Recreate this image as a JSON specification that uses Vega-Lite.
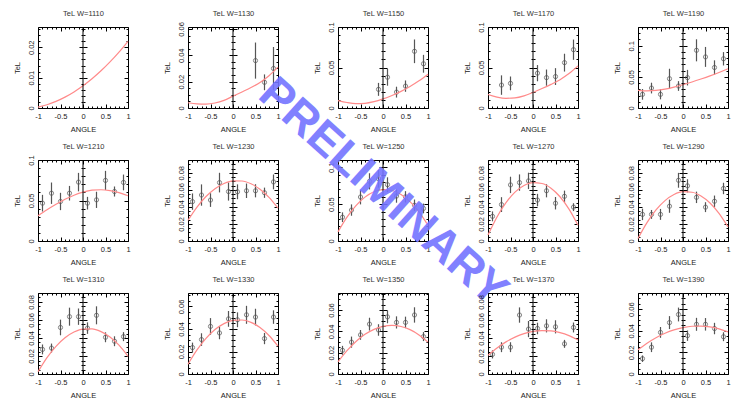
{
"$schema":"https://vega.github.io/schema/vega-lite/v6.json",
"background":"white",
"padding":{"left":12,"top":9,"right":0,"bottom":0},
"columns":5,
"spacing":{"row":52,"column":60},
"bounds":"flush",
"config":{
 "font":"Liberation Sans",
 "view":{"stroke":"#000","strokeWidth":1},
 "axis":{"grid":false,"domain":false,"tickColor":"#000","tickWidth":1,"labelFont":"Liberation Sans","labelFontSize":7.5,"labelColor":"#222","titleFont":"Liberation Sans","titleFontSize":7.5,"titleFontWeight":"normal","titleColor":"#222","labelFlush":false,"labelOverlap":false}
},
"datasets":{
"pts":[
{"w":1130,"a":0.5,"v":0.036,"e":0.0137},{"w":1130,"a":0.7,"v":0.0195,"e":0.006},{"w":1130,"a":0.9,"v":0.030,"e":0.0163},
{"w":1150,"a":-0.1,"v":0.023,"e":0.008},{"w":1150,"a":0.1,"v":0.038,"e":0.0105},{"w":1150,"a":0.3,"v":0.0196,"e":0.0067},{"w":1150,"a":0.5,"v":0.027,"e":0.007},{"w":1150,"a":0.7,"v":0.070,"e":0.0146},{"w":1150,"a":0.9,"v":0.0546,"e":0.011},
{"w":1170,"a":-0.7,"v":0.0283,"e":0.012},{"w":1170,"a":-0.5,"v":0.0304,"e":0.0085},{"w":1170,"a":0.1,"v":0.043,"e":0.01},{"w":1170,"a":0.3,"v":0.0375,"e":0.01},{"w":1170,"a":0.5,"v":0.0388,"e":0.0104},{"w":1170,"a":0.7,"v":0.056,"e":0.011},{"w":1170,"a":0.9,"v":0.072,"e":0.0125},
{"w":1190,"a":-0.9,"v":0.0219,"e":0.0086},{"w":1190,"a":-0.7,"v":0.032,"e":0.0086},{"w":1190,"a":-0.5,"v":0.0219,"e":0.008},{"w":1190,"a":-0.3,"v":0.047,"e":0.016},{"w":1190,"a":-0.1,"v":0.0353,"e":0.0078},{"w":1190,"a":0.1,"v":0.0487,"e":0.0125},{"w":1190,"a":0.3,"v":0.0926,"e":0.0177},{"w":1190,"a":0.5,"v":0.082,"e":0.016},{"w":1190,"a":0.7,"v":0.065,"e":0.0115},{"w":1190,"a":0.9,"v":0.079,"e":0.0107},
{"w":1210,"a":-0.9,"v":0.0467,"e":0.0103},{"w":1210,"a":-0.7,"v":0.059,"e":0.0132},{"w":1210,"a":-0.5,"v":0.0488,"e":0.0107},{"w":1210,"a":-0.3,"v":0.059,"e":0.009},{"w":1210,"a":-0.1,"v":0.0727,"e":0.0114},{"w":1210,"a":0.1,"v":0.0467,"e":0.0078},{"w":1210,"a":0.3,"v":0.0508,"e":0.01},{"w":1210,"a":0.5,"v":0.0748,"e":0.0118},{"w":1210,"a":0.7,"v":0.0611,"e":0.0062},{"w":1210,"a":0.9,"v":0.0723,"e":0.0097},
{"w":1230,"a":-0.9,"v":0.0462,"e":0.0096},{"w":1230,"a":-0.7,"v":0.0539,"e":0.0125},{"w":1230,"a":-0.5,"v":0.048,"e":0.008},{"w":1230,"a":-0.3,"v":0.0685,"e":0.0115},{"w":1230,"a":-0.1,"v":0.058,"e":0.0106},{"w":1230,"a":0.1,"v":0.0577,"e":0.0087},{"w":1230,"a":0.3,"v":0.0589,"e":0.0085},{"w":1230,"a":0.5,"v":0.0589,"e":0.0077},{"w":1230,"a":0.7,"v":0.0566,"e":0.006},{"w":1230,"a":0.9,"v":0.0693,"e":0.0087},
{"w":1250,"a":-0.9,"v":0.0323,"e":0.0066},{"w":1250,"a":-0.7,"v":0.042,"e":0.0077},{"w":1250,"a":-0.5,"v":0.0597,"e":0.01},{"w":1250,"a":-0.3,"v":0.081,"e":0.011},{"w":1250,"a":-0.1,"v":0.0844,"e":0.012},{"w":1250,"a":0.1,"v":0.0765,"e":0.01},{"w":1250,"a":0.3,"v":0.061,"e":0.009},{"w":1250,"a":0.5,"v":0.06,"e":0.0077},{"w":1250,"a":0.7,"v":0.0486,"e":0.0077},{"w":1250,"a":0.9,"v":0.0442,"e":0.0066},
{"w":1270,"a":-0.9,"v":0.0289,"e":0.0058},{"w":1270,"a":-0.7,"v":0.0427,"e":0.0087},{"w":1270,"a":-0.5,"v":0.0658,"e":0.0096},{"w":1270,"a":-0.3,"v":0.0685,"e":0.0096},{"w":1270,"a":-0.1,"v":0.0705,"e":0.0096},{"w":1270,"a":0.1,"v":0.048,"e":0.0073},{"w":1270,"a":0.3,"v":0.0589,"e":0.0077},{"w":1270,"a":0.5,"v":0.0443,"e":0.0073},{"w":1270,"a":0.7,"v":0.0524,"e":0.0067},{"w":1270,"a":0.9,"v":0.0397,"e":0.0046},
{"w":1290,"a":-0.9,"v":0.0312,"e":0.0067},{"w":1290,"a":-0.7,"v":0.0312,"e":0.0052},{"w":1290,"a":-0.5,"v":0.0312,"e":0.0064},{"w":1290,"a":-0.3,"v":0.0408,"e":0.0077},{"w":1290,"a":-0.1,"v":0.0712,"e":0.0087},{"w":1290,"a":0.1,"v":0.0647,"e":0.0077},{"w":1290,"a":0.3,"v":0.0512,"e":0.0067},{"w":1290,"a":0.5,"v":0.0397,"e":0.0058},{"w":1290,"a":0.7,"v":0.0466,"e":0.0067},{"w":1290,"a":0.9,"v":0.0616,"e":0.0067},
{"w":1310,"a":-0.9,"v":0.0273,"e":0.0055},{"w":1310,"a":-0.7,"v":0.0288,"e":0.005},{"w":1310,"a":-0.5,"v":0.0517,"e":0.0087},{"w":1310,"a":-0.3,"v":0.0637,"e":0.01},{"w":1310,"a":-0.1,"v":0.0637,"e":0.0091},{"w":1310,"a":0.1,"v":0.051,"e":0.0064},{"w":1310,"a":0.3,"v":0.0652,"e":0.01},{"w":1310,"a":0.5,"v":0.0408,"e":0.0055},{"w":1310,"a":0.7,"v":0.0364,"e":0.0055},{"w":1310,"a":0.9,"v":0.0415,"e":0.005},
{"w":1330,"a":-0.9,"v":0.0235,"e":0.0044},{"w":1330,"a":-0.7,"v":0.0306,"e":0.0056},{"w":1330,"a":-0.5,"v":0.0423,"e":0.0074},{"w":1330,"a":-0.3,"v":0.0365,"e":0.0056},{"w":1330,"a":-0.1,"v":0.049,"e":0.007},{"w":1330,"a":0.1,"v":0.0482,"e":0.0066},{"w":1330,"a":0.3,"v":0.0526,"e":0.008},{"w":1330,"a":0.5,"v":0.0506,"e":0.0074},{"w":1330,"a":0.7,"v":0.0315,"e":0.005},{"w":1330,"a":0.9,"v":0.0506,"e":0.006},
{"w":1350,"a":-0.9,"v":0.0222,"e":0.0042},{"w":1350,"a":-0.7,"v":0.0299,"e":0.0052},{"w":1350,"a":-0.5,"v":0.0367,"e":0.0046},{"w":1350,"a":-0.3,"v":0.0468,"e":0.006},{"w":1350,"a":-0.1,"v":0.0413,"e":0.0054},{"w":1350,"a":0.1,"v":0.0536,"e":0.006},{"w":1350,"a":0.3,"v":0.0484,"e":0.0057},{"w":1350,"a":0.5,"v":0.0484,"e":0.0054},{"w":1350,"a":0.7,"v":0.0554,"e":0.0072},{"w":1350,"a":0.9,"v":0.0351,"e":0.0042},
{"w":1370,"a":-0.9,"v":0.0218,"e":0.0045},{"w":1370,"a":-0.7,"v":0.0298,"e":0.0055},{"w":1370,"a":-0.5,"v":0.0298,"e":0.0055},{"w":1370,"a":-0.3,"v":0.0655,"e":0.0085},{"w":1370,"a":-0.1,"v":0.0499,"e":0.009},{"w":1370,"a":0.1,"v":0.0506,"e":0.0064},{"w":1370,"a":0.3,"v":0.0535,"e":0.0073},{"w":1370,"a":0.5,"v":0.0524,"e":0.0073},{"w":1370,"a":0.7,"v":0.0335,"e":0.0044},{"w":1370,"a":0.9,"v":0.0517,"e":0.0055},
{"w":1390,"a":-0.9,"v":0.0142,"e":0.003},{"w":1390,"a":-0.7,"v":0.0248,"e":0.0045},{"w":1390,"a":-0.5,"v":0.0385,"e":0.005},{"w":1390,"a":-0.3,"v":0.0476,"e":0.006},{"w":1390,"a":-0.1,"v":0.0551,"e":0.0064},{"w":1390,"a":0.1,"v":0.0355,"e":0.0048},{"w":1390,"a":0.3,"v":0.046,"e":0.006},{"w":1390,"a":0.5,"v":0.046,"e":0.0058},{"w":1390,"a":0.7,"v":0.0421,"e":0.0053},{"w":1390,"a":0.9,"v":0.0345,"e":0.0041}
],
"fit":[
{"w":1110,"a":-1,"v":0.0003},{"w":1110,"a":-0.8,"v":0.00108},{"w":1110,"a":-0.6,"v":0.00218},{"w":1110,"a":-0.4,"v":0.00358},{"w":1110,"a":-0.2,"v":0.00528},{"w":1110,"a":0,"v":0.0073},{"w":1110,"a":0.2,"v":0.00962},{"w":1110,"a":0.4,"v":0.01226},{"w":1110,"a":0.6,"v":0.0152},{"w":1110,"a":0.8,"v":0.01844},{"w":1110,"a":1,"v":0.022},
{"w":1130,"a":-1,"v":0.004},{"w":1130,"a":-0.8,"v":0.0032},{"w":1130,"a":-0.6,"v":0.003},{"w":1130,"a":-0.4,"v":0.0038},{"w":1130,"a":-0.2,"v":0.0058},{"w":1130,"a":0,"v":0.009},{"w":1130,"a":0.2,"v":0.0122},{"w":1130,"a":0.4,"v":0.0155},{"w":1130,"a":0.6,"v":0.0194},{"w":1130,"a":0.8,"v":0.0245},{"w":1130,"a":1,"v":0.031},
{"w":1150,"a":-1,"v":0.0092},{"w":1150,"a":-0.8,"v":0.0068},{"w":1150,"a":-0.6,"v":0.0055},{"w":1150,"a":-0.4,"v":0.0058},{"w":1150,"a":-0.2,"v":0.0078},{"w":1150,"a":0,"v":0.0112},{"w":1150,"a":0.2,"v":0.0155},{"w":1150,"a":0.4,"v":0.0205},{"w":1150,"a":0.6,"v":0.0265},{"w":1150,"a":0.8,"v":0.0335},{"w":1150,"a":1,"v":0.0417},
{"w":1170,"a":-1,"v":0.0167},{"w":1170,"a":-0.8,"v":0.0135},{"w":1170,"a":-0.6,"v":0.012},{"w":1170,"a":-0.4,"v":0.0125},{"w":1170,"a":-0.2,"v":0.015},{"w":1170,"a":0,"v":0.0192},{"w":1170,"a":0.2,"v":0.024},{"w":1170,"a":0.4,"v":0.0292},{"w":1170,"a":0.6,"v":0.035},{"w":1170,"a":0.8,"v":0.0425},{"w":1170,"a":1,"v":0.052},
{"w":1190,"a":-1,"v":0.0284},{"w":1190,"a":-0.8,"v":0.0275},{"w":1190,"a":-0.6,"v":0.0282},{"w":1190,"a":-0.4,"v":0.0303},{"w":1190,"a":-0.2,"v":0.0335},{"w":1190,"a":0,"v":0.0375},{"w":1190,"a":0.2,"v":0.0418},{"w":1190,"a":0.4,"v":0.0465},{"w":1190,"a":0.6,"v":0.0515},{"w":1190,"a":0.8,"v":0.057},{"w":1190,"a":1,"v":0.063},
{"w":1210,"a":-1,"v":0.031},{"w":1210,"a":-0.8,"v":0.0385},{"w":1210,"a":-0.6,"v":0.0453},{"w":1210,"a":-0.4,"v":0.0515},{"w":1210,"a":-0.2,"v":0.0565},{"w":1210,"a":0,"v":0.0603},{"w":1210,"a":0.2,"v":0.0627},{"w":1210,"a":0.4,"v":0.0633},{"w":1210,"a":0.6,"v":0.0622},{"w":1210,"a":0.8,"v":0.0597},{"w":1210,"a":1,"v":0.0558},
{"w":1230,"a":-1,"v":0.0243},{"w":1230,"a":-0.8,"v":0.0398},{"w":1230,"a":-0.6,"v":0.0522},{"w":1230,"a":-0.4,"v":0.0614},{"w":1230,"a":-0.2,"v":0.0675},{"w":1230,"a":0,"v":0.0705},{"w":1230,"a":0.2,"v":0.0704},{"w":1230,"a":0.4,"v":0.0671},{"w":1230,"a":0.6,"v":0.0607},{"w":1230,"a":0.8,"v":0.0512},{"w":1230,"a":1,"v":0.0385},
{"w":1250,"a":-1,"v":0.0124},{"w":1250,"a":-0.8,"v":0.0324},{"w":1250,"a":-0.6,"v":0.0481},{"w":1250,"a":-0.4,"v":0.0596},{"w":1250,"a":-0.2,"v":0.0668},{"w":1250,"a":0,"v":0.0698},{"w":1250,"a":0.2,"v":0.0686},{"w":1250,"a":0.4,"v":0.0631},{"w":1250,"a":0.6,"v":0.0534},{"w":1250,"a":0.8,"v":0.0394},{"w":1250,"a":1,"v":0.0212},
{"w":1270,"a":-1,"v":0.0069},{"w":1270,"a":-0.8,"v":0.0282},{"w":1270,"a":-0.6,"v":0.0449},{"w":1270,"a":-0.4,"v":0.0573},{"w":1270,"a":-0.2,"v":0.0651},{"w":1270,"a":0,"v":0.0685},{"w":1270,"a":0.2,"v":0.0674},{"w":1270,"a":0.4,"v":0.0619},{"w":1270,"a":0.6,"v":0.0519},{"w":1270,"a":0.8,"v":0.0374},{"w":1270,"a":1,"v":0.0185},
{"w":1290,"a":-1,"v":0.003},{"w":1290,"a":-0.8,"v":0.0216},{"w":1290,"a":-0.6,"v":0.0364},{"w":1290,"a":-0.4,"v":0.0474},{"w":1290,"a":-0.2,"v":0.0545},{"w":1290,"a":0,"v":0.0578},{"w":1290,"a":0.2,"v":0.0572},{"w":1290,"a":0.4,"v":0.0528},{"w":1290,"a":0.6,"v":0.0446},{"w":1290,"a":0.8,"v":0.0325},{"w":1290,"a":1,"v":0.0166},
{"w":1310,"a":-1,"v":0.0025},{"w":1310,"a":-0.8,"v":0.0182},{"w":1310,"a":-0.6,"v":0.0308},{"w":1310,"a":-0.4,"v":0.0403},{"w":1310,"a":-0.2,"v":0.0466},{"w":1310,"a":0,"v":0.0499},{"w":1310,"a":0.2,"v":0.0501},{"w":1310,"a":0.4,"v":0.0471},{"w":1310,"a":0.6,"v":0.0411},{"w":1310,"a":0.8,"v":0.032},{"w":1310,"a":1,"v":0.0197},
{"w":1330,"a":-1,"v":0.0087},{"w":1330,"a":-0.8,"v":0.0214},{"w":1330,"a":-0.6,"v":0.0317},{"w":1330,"a":-0.4,"v":0.0395},{"w":1330,"a":-0.2,"v":0.0448},{"w":1330,"a":0,"v":0.0476},{"w":1330,"a":0.2,"v":0.048},{"w":1330,"a":0.4,"v":0.0459},{"w":1330,"a":0.6,"v":0.0413},{"w":1330,"a":0.8,"v":0.0342},{"w":1330,"a":1,"v":0.0247},
{"w":1350,"a":-1,"v":0.0114},{"w":1350,"a":-0.8,"v":0.0219},{"w":1350,"a":-0.6,"v":0.0305},{"w":1350,"a":-0.4,"v":0.0372},{"w":1350,"a":-0.2,"v":0.0419},{"w":1350,"a":0,"v":0.0447},{"w":1350,"a":0.2,"v":0.0456},{"w":1350,"a":0.4,"v":0.0446},{"w":1350,"a":0.6,"v":0.0416},{"w":1350,"a":0.8,"v":0.0367},{"w":1350,"a":1,"v":0.0299},
{"w":1370,"a":-1,"v":0.0207},{"w":1370,"a":-0.8,"v":0.0289},{"w":1370,"a":-0.6,"v":0.0357},{"w":1370,"a":-0.4,"v":0.041},{"w":1370,"a":-0.2,"v":0.0449},{"w":1370,"a":0,"v":0.0473},{"w":1370,"a":0.2,"v":0.0483},{"w":1370,"a":0.4,"v":0.0479},{"w":1370,"a":0.6,"v":0.046},{"w":1370,"a":0.8,"v":0.0427},{"w":1370,"a":1,"v":0.0379},
{"w":1390,"a":-1,"v":0.0224},{"w":1390,"a":-0.8,"v":0.0285},{"w":1390,"a":-0.6,"v":0.0336},{"w":1390,"a":-0.4,"v":0.0377},{"w":1390,"a":-0.2,"v":0.0408},{"w":1390,"a":0,"v":0.043},{"w":1390,"a":0.2,"v":0.0442},{"w":1390,"a":0.4,"v":0.0444},{"w":1390,"a":0.6,"v":0.0436},{"w":1390,"a":0.8,"v":0.0418},{"w":1390,"a":1,"v":0.039}
]},
"concat":[
{"width":90,"height":81,"resolve":{"axis":{"x":"independent","y":"independent"}},"layer":[
{"data":{"name":"pts"},"transform":[{"filter":"datum.w==1110"}],"mark":{"type":"errorbar","color":"#555","thickness":1.2},"encoding":{"x":{"field":"a","type":"quantitative","scale":{"domain":[-1,1],"nice":false},"axis":{"orient":"top","values":[-1,-0.9,-0.8,-0.7,-0.6,-0.5,-0.4,-0.3,-0.2,-0.1,0,0.1,0.2,0.3,0.4,0.5,0.6,0.7,0.8,0.9,1],"tickSize":{"condition":{"test":"abs(datum.value*2-round(datum.value*2))<0.001","value":-4},"value":-2},"labels":false,"title":"TeL W=1110","titlePadding":9,"titleColor":"#333"}},"y":{"field":"v","type":"quantitative","scale":{"domain":[0,0.0267],"nice":false,"zero":false},"axis":{"orient":"right","values":[0,0.002,0.004,0.006,0.008,0.01,0.012,0.014,0.016,0.018,0.02,0.022,0.024,0.026],"tickSize":{"condition":{"test":"abs(datum.value/0.01-round(datum.value/0.01))<0.001","value":-4},"value":-2},"labels":false,"title":null}},"yError":{"field":"e"}}},
{"data":{"name":"pts"},"transform":[{"filter":"datum.w==1110"}],"mark":{"type":"point","shape":"circle","size":18,"color":"#555","strokeWidth":1},"encoding":{"x":{"field":"a","type":"quantitative","axis":{"orient":"bottom","values":[-1,-0.9,-0.8,-0.7,-0.6,-0.5,-0.4,-0.3,-0.2,-0.1,0,0.1,0.2,0.3,0.4,0.5,0.6,0.7,0.8,0.9,1],"tickSize":{"condition":{"test":"abs(datum.value*2-round(datum.value*2))<0.001","value":-4},"value":-2},"labelExpr":"abs(datum.value*2-round(datum.value*2))<0.001 ? toString(round(datum.value*10)/10) : ''","labelPadding":8,"title":"ANGLE","titlePadding":4}},"y":{"field":"v","type":"quantitative","axis":{"orient":"left","values":[0,0.002,0.004,0.006,0.008,0.01,0.012,0.014,0.016,0.018,0.02,0.022,0.024,0.026],"tickSize":{"condition":{"test":"abs(datum.value/0.01-round(datum.value/0.01))<0.001","value":-4},"value":-2},"labelExpr":"abs(datum.value/0.01-round(datum.value/0.01))<0.001 ? toString(round(datum.value*1000)/1000) : ''","labelAngle":270,"labelAlign":"center","labelBaseline":"bottom","labelPadding":7,"title":"TeL","titlePadding":4}}}},
{"data":{"name":"fit"},"transform":[{"filter":"datum.w==1110"}],"mark":{"type":"line","color":"#ff8a8a","strokeWidth":1.2,"interpolate":"monotone"},"encoding":{"x":{"field":"a","type":"quantitative","axis":null},"y":{"field":"v","type":"quantitative","axis":{"orient":"left","offset":-45,"values":[0,0.002,0.004,0.006,0.008,0.01,0.012,0.014,0.016,0.018,0.02,0.022,0.024,0.026],"tickSize":{"condition":{"test":"abs(datum.value/0.01-round(datum.value/0.01))<0.001","value":4},"value":2},"labels":false,"title":null}}}},
{"data":{"values":[{}]},"mark":{"type":"rule","color":"#000","strokeWidth":1},"encoding":{"x":{"datum":0,"type":"quantitative","axis":null},"y":{"datum":0,"type":"quantitative","axis":{"orient":"right","offset":-45,"values":[0,0.002,0.004,0.006,0.008,0.01,0.012,0.014,0.016,0.018,0.02,0.022,0.024,0.026],"tickSize":{"condition":{"test":"abs(datum.value/0.01-round(datum.value/0.01))<0.001","value":4},"value":2},"labels":false,"title":null}},"y2":{"datum":0.0267}}}
]},
{"width":90,"height":81,"resolve":{"axis":{"x":"independent","y":"independent"}},"layer":[
{"data":{"name":"pts"},"transform":[{"filter":"datum.w==1130"}],"mark":{"type":"errorbar","color":"#555","thickness":1.2},"encoding":{"x":{"field":"a","type":"quantitative","scale":{"domain":[-1,1],"nice":false},"axis":{"orient":"top","values":[-1,-0.9,-0.8,-0.7,-0.6,-0.5,-0.4,-0.3,-0.2,-0.1,0,0.1,0.2,0.3,0.4,0.5,0.6,0.7,0.8,0.9,1],"tickSize":{"condition":{"test":"abs(datum.value*2-round(datum.value*2))<0.001","value":-4},"value":-2},"labels":false,"title":"TeL W=1130","titlePadding":9,"titleColor":"#333"}},"y":{"field":"v","type":"quantitative","scale":{"domain":[0,0.0615],"nice":false,"zero":false},"axis":{"orient":"right","values":[0,0.005,0.01,0.015,0.02,0.025,0.03,0.035,0.04,0.045,0.05,0.055,0.06],"tickSize":{"condition":{"test":"abs(datum.value/0.02-round(datum.value/0.02))<0.001","value":-4},"value":-2},"labels":false,"title":null}},"yError":{"field":"e"}}},
{"data":{"name":"pts"},"transform":[{"filter":"datum.w==1130"}],"mark":{"type":"point","shape":"circle","size":18,"color":"#555","strokeWidth":1},"encoding":{"x":{"field":"a","type":"quantitative","axis":{"orient":"bottom","values":[-1,-0.9,-0.8,-0.7,-0.6,-0.5,-0.4,-0.3,-0.2,-0.1,0,0.1,0.2,0.3,0.4,0.5,0.6,0.7,0.8,0.9,1],"tickSize":{"condition":{"test":"abs(datum.value*2-round(datum.value*2))<0.001","value":-4},"value":-2},"labelExpr":"abs(datum.value*2-round(datum.value*2))<0.001 ? toString(round(datum.value*10)/10) : ''","labelPadding":8,"title":"ANGLE","titlePadding":4}},"y":{"field":"v","type":"quantitative","axis":{"orient":"left","values":[0,0.005,0.01,0.015,0.02,0.025,0.03,0.035,0.04,0.045,0.05,0.055,0.06],"tickSize":{"condition":{"test":"abs(datum.value/0.02-round(datum.value/0.02))<0.001","value":-4},"value":-2},"labelExpr":"abs(datum.value/0.02-round(datum.value/0.02))<0.001 ? toString(round(datum.value*1000)/1000) : ''","labelAngle":270,"labelAlign":"center","labelBaseline":"bottom","labelPadding":7,"title":"TeL","titlePadding":4}}}},
{"data":{"name":"fit"},"transform":[{"filter":"datum.w==1130"}],"mark":{"type":"line","color":"#ff8a8a","strokeWidth":1.2,"interpolate":"monotone"},"encoding":{"x":{"field":"a","type":"quantitative","axis":null},"y":{"field":"v","type":"quantitative","axis":{"orient":"left","offset":-45,"values":[0,0.005,0.01,0.015,0.02,0.025,0.03,0.035,0.04,0.045,0.05,0.055,0.06],"tickSize":{"condition":{"test":"abs(datum.value/0.02-round(datum.value/0.02))<0.001","value":4},"value":2},"labels":false,"title":null}}}},
{"data":{"values":[{}]},"mark":{"type":"rule","color":"#000","strokeWidth":1},"encoding":{"x":{"datum":0,"type":"quantitative","axis":null},"y":{"datum":0,"type":"quantitative","axis":{"orient":"right","offset":-45,"values":[0,0.005,0.01,0.015,0.02,0.025,0.03,0.035,0.04,0.045,0.05,0.055,0.06],"tickSize":{"condition":{"test":"abs(datum.value/0.02-round(datum.value/0.02))<0.001","value":4},"value":2},"labels":false,"title":null}},"y2":{"datum":0.0615}}}
]},
{"width":90,"height":81,"resolve":{"axis":{"x":"independent","y":"independent"}},"layer":[
{"data":{"name":"pts"},"transform":[{"filter":"datum.w==1150"}],"mark":{"type":"errorbar","color":"#555","thickness":1.2},"encoding":{"x":{"field":"a","type":"quantitative","scale":{"domain":[-1,1],"nice":false},"axis":{"orient":"top","values":[-1,-0.9,-0.8,-0.7,-0.6,-0.5,-0.4,-0.3,-0.2,-0.1,0,0.1,0.2,0.3,0.4,0.5,0.6,0.7,0.8,0.9,1],"tickSize":{"condition":{"test":"abs(datum.value*2-round(datum.value*2))<0.001","value":-4},"value":-2},"labels":false,"title":"TeL W=1150","titlePadding":9,"titleColor":"#333"}},"y":{"field":"v","type":"quantitative","scale":{"domain":[0,0.1],"nice":false,"zero":false},"axis":{"orient":"right","values":[0,0.01,0.02,0.03,0.04,0.05,0.06,0.07,0.08,0.09,0.1],"tickSize":{"condition":{"test":"abs(datum.value/0.05-round(datum.value/0.05))<0.001","value":-4},"value":-2},"labels":false,"title":null}},"yError":{"field":"e"}}},
{"data":{"name":"pts"},"transform":[{"filter":"datum.w==1150"}],"mark":{"type":"point","shape":"circle","size":18,"color":"#555","strokeWidth":1},"encoding":{"x":{"field":"a","type":"quantitative","axis":{"orient":"bottom","values":[-1,-0.9,-0.8,-0.7,-0.6,-0.5,-0.4,-0.3,-0.2,-0.1,0,0.1,0.2,0.3,0.4,0.5,0.6,0.7,0.8,0.9,1],"tickSize":{"condition":{"test":"abs(datum.value*2-round(datum.value*2))<0.001","value":-4},"value":-2},"labelExpr":"abs(datum.value*2-round(datum.value*2))<0.001 ? toString(round(datum.value*10)/10) : ''","labelPadding":8,"title":"ANGLE","titlePadding":4}},"y":{"field":"v","type":"quantitative","axis":{"orient":"left","values":[0,0.01,0.02,0.03,0.04,0.05,0.06,0.07,0.08,0.09,0.1],"tickSize":{"condition":{"test":"abs(datum.value/0.05-round(datum.value/0.05))<0.001","value":-4},"value":-2},"labelExpr":"abs(datum.value/0.05-round(datum.value/0.05))<0.001 ? toString(round(datum.value*1000)/1000) : ''","labelAngle":270,"labelAlign":"center","labelBaseline":"bottom","labelPadding":7,"title":"TeL","titlePadding":4}}}},
{"data":{"name":"fit"},"transform":[{"filter":"datum.w==1150"}],"mark":{"type":"line","color":"#ff8a8a","strokeWidth":1.2,"interpolate":"monotone"},"encoding":{"x":{"field":"a","type":"quantitative","axis":null},"y":{"field":"v","type":"quantitative","axis":{"orient":"left","offset":-45,"values":[0,0.01,0.02,0.03,0.04,0.05,0.06,0.07,0.08,0.09,0.1],"tickSize":{"condition":{"test":"abs(datum.value/0.05-round(datum.value/0.05))<0.001","value":4},"value":2},"labels":false,"title":null}}}},
{"data":{"values":[{}]},"mark":{"type":"rule","color":"#000","strokeWidth":1},"encoding":{"x":{"datum":0,"type":"quantitative","axis":null},"y":{"datum":0,"type":"quantitative","axis":{"orient":"right","offset":-45,"values":[0,0.01,0.02,0.03,0.04,0.05,0.06,0.07,0.08,0.09,0.1],"tickSize":{"condition":{"test":"abs(datum.value/0.05-round(datum.value/0.05))<0.001","value":4},"value":2},"labels":false,"title":null}},"y2":{"datum":0.1}}}
]},
{"width":90,"height":81,"resolve":{"axis":{"x":"independent","y":"independent"}},"layer":[
{"data":{"name":"pts"},"transform":[{"filter":"datum.w==1170"}],"mark":{"type":"errorbar","color":"#555","thickness":1.2},"encoding":{"x":{"field":"a","type":"quantitative","scale":{"domain":[-1,1],"nice":false},"axis":{"orient":"top","values":[-1,-0.9,-0.8,-0.7,-0.6,-0.5,-0.4,-0.3,-0.2,-0.1,0,0.1,0.2,0.3,0.4,0.5,0.6,0.7,0.8,0.9,1],"tickSize":{"condition":{"test":"abs(datum.value*2-round(datum.value*2))<0.001","value":-4},"value":-2},"labels":false,"title":"TeL W=1170","titlePadding":9,"titleColor":"#333"}},"y":{"field":"v","type":"quantitative","scale":{"domain":[0,0.1],"nice":false,"zero":false},"axis":{"orient":"right","values":[0,0.01,0.02,0.03,0.04,0.05,0.06,0.07,0.08,0.09,0.1],"tickSize":{"condition":{"test":"abs(datum.value/0.05-round(datum.value/0.05))<0.001","value":-4},"value":-2},"labels":false,"title":null}},"yError":{"field":"e"}}},
{"data":{"name":"pts"},"transform":[{"filter":"datum.w==1170"}],"mark":{"type":"point","shape":"circle","size":18,"color":"#555","strokeWidth":1},"encoding":{"x":{"field":"a","type":"quantitative","axis":{"orient":"bottom","values":[-1,-0.9,-0.8,-0.7,-0.6,-0.5,-0.4,-0.3,-0.2,-0.1,0,0.1,0.2,0.3,0.4,0.5,0.6,0.7,0.8,0.9,1],"tickSize":{"condition":{"test":"abs(datum.value*2-round(datum.value*2))<0.001","value":-4},"value":-2},"labelExpr":"abs(datum.value*2-round(datum.value*2))<0.001 ? toString(round(datum.value*10)/10) : ''","labelPadding":8,"title":"ANGLE","titlePadding":4}},"y":{"field":"v","type":"quantitative","axis":{"orient":"left","values":[0,0.01,0.02,0.03,0.04,0.05,0.06,0.07,0.08,0.09,0.1],"tickSize":{"condition":{"test":"abs(datum.value/0.05-round(datum.value/0.05))<0.001","value":-4},"value":-2},"labelExpr":"abs(datum.value/0.05-round(datum.value/0.05))<0.001 ? toString(round(datum.value*1000)/1000) : ''","labelAngle":270,"labelAlign":"center","labelBaseline":"bottom","labelPadding":7,"title":"TeL","titlePadding":4}}}},
{"data":{"name":"fit"},"transform":[{"filter":"datum.w==1170"}],"mark":{"type":"line","color":"#ff8a8a","strokeWidth":1.2,"interpolate":"monotone"},"encoding":{"x":{"field":"a","type":"quantitative","axis":null},"y":{"field":"v","type":"quantitative","axis":{"orient":"left","offset":-45,"values":[0,0.01,0.02,0.03,0.04,0.05,0.06,0.07,0.08,0.09,0.1],"tickSize":{"condition":{"test":"abs(datum.value/0.05-round(datum.value/0.05))<0.001","value":4},"value":2},"labels":false,"title":null}}}},
{"data":{"values":[{}]},"mark":{"type":"rule","color":"#000","strokeWidth":1},"encoding":{"x":{"datum":0,"type":"quantitative","axis":null},"y":{"datum":0,"type":"quantitative","axis":{"orient":"right","offset":-45,"values":[0,0.01,0.02,0.03,0.04,0.05,0.06,0.07,0.08,0.09,0.1],"tickSize":{"condition":{"test":"abs(datum.value/0.05-round(datum.value/0.05))<0.001","value":4},"value":2},"labels":false,"title":null}},"y2":{"datum":0.1}}}
]},
{"width":90,"height":81,"resolve":{"axis":{"x":"independent","y":"independent"}},"layer":[
{"data":{"name":"pts"},"transform":[{"filter":"datum.w==1190"}],"mark":{"type":"errorbar","color":"#555","thickness":1.2},"encoding":{"x":{"field":"a","type":"quantitative","scale":{"domain":[-1,1],"nice":false},"axis":{"orient":"top","values":[-1,-0.9,-0.8,-0.7,-0.6,-0.5,-0.4,-0.3,-0.2,-0.1,0,0.1,0.2,0.3,0.4,0.5,0.6,0.7,0.8,0.9,1],"tickSize":{"condition":{"test":"abs(datum.value*2-round(datum.value*2))<0.001","value":-4},"value":-2},"labels":false,"title":"TeL W=1190","titlePadding":9,"titleColor":"#333"}},"y":{"field":"v","type":"quantitative","scale":{"domain":[0,0.13],"nice":false,"zero":false},"axis":{"orient":"right","values":[0,0.01,0.02,0.03,0.04,0.05,0.06,0.07,0.08,0.09,0.1,0.11,0.12,0.13],"tickSize":{"condition":{"test":"abs(datum.value/0.05-round(datum.value/0.05))<0.001","value":-4},"value":-2},"labels":false,"title":null}},"yError":{"field":"e"}}},
{"data":{"name":"pts"},"transform":[{"filter":"datum.w==1190"}],"mark":{"type":"point","shape":"circle","size":18,"color":"#555","strokeWidth":1},"encoding":{"x":{"field":"a","type":"quantitative","axis":{"orient":"bottom","values":[-1,-0.9,-0.8,-0.7,-0.6,-0.5,-0.4,-0.3,-0.2,-0.1,0,0.1,0.2,0.3,0.4,0.5,0.6,0.7,0.8,0.9,1],"tickSize":{"condition":{"test":"abs(datum.value*2-round(datum.value*2))<0.001","value":-4},"value":-2},"labelExpr":"abs(datum.value*2-round(datum.value*2))<0.001 ? toString(round(datum.value*10)/10) : ''","labelPadding":8,"title":"ANGLE","titlePadding":4}},"y":{"field":"v","type":"quantitative","axis":{"orient":"left","values":[0,0.01,0.02,0.03,0.04,0.05,0.06,0.07,0.08,0.09,0.1,0.11,0.12,0.13],"tickSize":{"condition":{"test":"abs(datum.value/0.05-round(datum.value/0.05))<0.001","value":-4},"value":-2},"labelExpr":"abs(datum.value/0.05-round(datum.value/0.05))<0.001 ? toString(round(datum.value*1000)/1000) : ''","labelAngle":270,"labelAlign":"center","labelBaseline":"bottom","labelPadding":7,"title":"TeL","titlePadding":4}}}},
{"data":{"name":"fit"},"transform":[{"filter":"datum.w==1190"}],"mark":{"type":"line","color":"#ff8a8a","strokeWidth":1.2,"interpolate":"monotone"},"encoding":{"x":{"field":"a","type":"quantitative","axis":null},"y":{"field":"v","type":"quantitative","axis":{"orient":"left","offset":-45,"values":[0,0.01,0.02,0.03,0.04,0.05,0.06,0.07,0.08,0.09,0.1,0.11,0.12,0.13],"tickSize":{"condition":{"test":"abs(datum.value/0.05-round(datum.value/0.05))<0.001","value":4},"value":2},"labels":false,"title":null}}}},
{"data":{"values":[{}]},"mark":{"type":"rule","color":"#000","strokeWidth":1},"encoding":{"x":{"datum":0,"type":"quantitative","axis":null},"y":{"datum":0,"type":"quantitative","axis":{"orient":"right","offset":-45,"values":[0,0.01,0.02,0.03,0.04,0.05,0.06,0.07,0.08,0.09,0.1,0.11,0.12,0.13],"tickSize":{"condition":{"test":"abs(datum.value/0.05-round(datum.value/0.05))<0.001","value":4},"value":2},"labels":false,"title":null}},"y2":{"datum":0.13}}}
]},
{"width":90,"height":81,"resolve":{"axis":{"x":"independent","y":"independent"}},"layer":[
{"data":{"name":"pts"},"transform":[{"filter":"datum.w==1210"}],"mark":{"type":"errorbar","color":"#555","thickness":1.2},"encoding":{"x":{"field":"a","type":"quantitative","scale":{"domain":[-1,1],"nice":false},"axis":{"orient":"top","values":[-1,-0.9,-0.8,-0.7,-0.6,-0.5,-0.4,-0.3,-0.2,-0.1,0,0.1,0.2,0.3,0.4,0.5,0.6,0.7,0.8,0.9,1],"tickSize":{"condition":{"test":"abs(datum.value*2-round(datum.value*2))<0.001","value":-4},"value":-2},"labels":false,"title":"TeL W=1210","titlePadding":9,"titleColor":"#333"}},"y":{"field":"v","type":"quantitative","scale":{"domain":[0,0.1],"nice":false,"zero":false},"axis":{"orient":"right","values":[0,0.01,0.02,0.03,0.04,0.05,0.06,0.07,0.08,0.09,0.1],"tickSize":{"condition":{"test":"abs(datum.value/0.05-round(datum.value/0.05))<0.001","value":-4},"value":-2},"labels":false,"title":null}},"yError":{"field":"e"}}},
{"data":{"name":"pts"},"transform":[{"filter":"datum.w==1210"}],"mark":{"type":"point","shape":"circle","size":18,"color":"#555","strokeWidth":1},"encoding":{"x":{"field":"a","type":"quantitative","axis":{"orient":"bottom","values":[-1,-0.9,-0.8,-0.7,-0.6,-0.5,-0.4,-0.3,-0.2,-0.1,0,0.1,0.2,0.3,0.4,0.5,0.6,0.7,0.8,0.9,1],"tickSize":{"condition":{"test":"abs(datum.value*2-round(datum.value*2))<0.001","value":-4},"value":-2},"labelExpr":"abs(datum.value*2-round(datum.value*2))<0.001 ? toString(round(datum.value*10)/10) : ''","labelPadding":8,"title":"ANGLE","titlePadding":4}},"y":{"field":"v","type":"quantitative","axis":{"orient":"left","values":[0,0.01,0.02,0.03,0.04,0.05,0.06,0.07,0.08,0.09,0.1],"tickSize":{"condition":{"test":"abs(datum.value/0.05-round(datum.value/0.05))<0.001","value":-4},"value":-2},"labelExpr":"abs(datum.value/0.05-round(datum.value/0.05))<0.001 ? toString(round(datum.value*1000)/1000) : ''","labelAngle":270,"labelAlign":"center","labelBaseline":"bottom","labelPadding":7,"title":"TeL","titlePadding":4}}}},
{"data":{"name":"fit"},"transform":[{"filter":"datum.w==1210"}],"mark":{"type":"line","color":"#ff8a8a","strokeWidth":1.2,"interpolate":"monotone"},"encoding":{"x":{"field":"a","type":"quantitative","axis":null},"y":{"field":"v","type":"quantitative","axis":{"orient":"left","offset":-45,"values":[0,0.01,0.02,0.03,0.04,0.05,0.06,0.07,0.08,0.09,0.1],"tickSize":{"condition":{"test":"abs(datum.value/0.05-round(datum.value/0.05))<0.001","value":4},"value":2},"labels":false,"title":null}}}},
{"data":{"values":[{}]},"mark":{"type":"rule","color":"#000","strokeWidth":1},"encoding":{"x":{"datum":0,"type":"quantitative","axis":null},"y":{"datum":0,"type":"quantitative","axis":{"orient":"right","offset":-45,"values":[0,0.01,0.02,0.03,0.04,0.05,0.06,0.07,0.08,0.09,0.1],"tickSize":{"condition":{"test":"abs(datum.value/0.05-round(datum.value/0.05))<0.001","value":4},"value":2},"labels":false,"title":null}},"y2":{"datum":0.1}}}
]},
{"width":90,"height":81,"resolve":{"axis":{"x":"independent","y":"independent"}},"layer":[
{"data":{"name":"pts"},"transform":[{"filter":"datum.w==1230"}],"mark":{"type":"errorbar","color":"#555","thickness":1.2},"encoding":{"x":{"field":"a","type":"quantitative","scale":{"domain":[-1,1],"nice":false},"axis":{"orient":"top","values":[-1,-0.9,-0.8,-0.7,-0.6,-0.5,-0.4,-0.3,-0.2,-0.1,0,0.1,0.2,0.3,0.4,0.5,0.6,0.7,0.8,0.9,1],"tickSize":{"condition":{"test":"abs(datum.value*2-round(datum.value*2))<0.001","value":-4},"value":-2},"labels":false,"title":"TeL W=1230","titlePadding":9,"titleColor":"#333"}},"y":{"field":"v","type":"quantitative","scale":{"domain":[0,0.095],"nice":false,"zero":false},"axis":{"orient":"right","values":[0,0.005,0.01,0.015,0.02,0.025,0.03,0.035,0.04,0.045,0.05,0.055,0.06,0.065,0.07,0.075,0.08,0.085,0.09,0.095],"tickSize":{"condition":{"test":"abs(datum.value/0.02-round(datum.value/0.02))<0.001","value":-4},"value":-2},"labels":false,"title":null}},"yError":{"field":"e"}}},
{"data":{"name":"pts"},"transform":[{"filter":"datum.w==1230"}],"mark":{"type":"point","shape":"circle","size":18,"color":"#555","strokeWidth":1},"encoding":{"x":{"field":"a","type":"quantitative","axis":{"orient":"bottom","values":[-1,-0.9,-0.8,-0.7,-0.6,-0.5,-0.4,-0.3,-0.2,-0.1,0,0.1,0.2,0.3,0.4,0.5,0.6,0.7,0.8,0.9,1],"tickSize":{"condition":{"test":"abs(datum.value*2-round(datum.value*2))<0.001","value":-4},"value":-2},"labelExpr":"abs(datum.value*2-round(datum.value*2))<0.001 ? toString(round(datum.value*10)/10) : ''","labelPadding":8,"title":"ANGLE","titlePadding":4}},"y":{"field":"v","type":"quantitative","axis":{"orient":"left","values":[0,0.005,0.01,0.015,0.02,0.025,0.03,0.035,0.04,0.045,0.05,0.055,0.06,0.065,0.07,0.075,0.08,0.085,0.09,0.095],"tickSize":{"condition":{"test":"abs(datum.value/0.02-round(datum.value/0.02))<0.001","value":-4},"value":-2},"labelExpr":"abs(datum.value/0.02-round(datum.value/0.02))<0.001 ? toString(round(datum.value*1000)/1000) : ''","labelAngle":270,"labelAlign":"center","labelBaseline":"bottom","labelPadding":7,"title":"TeL","titlePadding":4}}}},
{"data":{"name":"fit"},"transform":[{"filter":"datum.w==1230"}],"mark":{"type":"line","color":"#ff8a8a","strokeWidth":1.2,"interpolate":"monotone"},"encoding":{"x":{"field":"a","type":"quantitative","axis":null},"y":{"field":"v","type":"quantitative","axis":{"orient":"left","offset":-45,"values":[0,0.005,0.01,0.015,0.02,0.025,0.03,0.035,0.04,0.045,0.05,0.055,0.06,0.065,0.07,0.075,0.08,0.085,0.09,0.095],"tickSize":{"condition":{"test":"abs(datum.value/0.02-round(datum.value/0.02))<0.001","value":4},"value":2},"labels":false,"title":null}}}},
{"data":{"values":[{}]},"mark":{"type":"rule","color":"#000","strokeWidth":1},"encoding":{"x":{"datum":0,"type":"quantitative","axis":null},"y":{"datum":0,"type":"quantitative","axis":{"orient":"right","offset":-45,"values":[0,0.005,0.01,0.015,0.02,0.025,0.03,0.035,0.04,0.045,0.05,0.055,0.06,0.065,0.07,0.075,0.08,0.085,0.09,0.095],"tickSize":{"condition":{"test":"abs(datum.value/0.02-round(datum.value/0.02))<0.001","value":4},"value":2},"labels":false,"title":null}},"y2":{"datum":0.095}}}
]},
{"width":90,"height":81,"resolve":{"axis":{"x":"independent","y":"independent"}},"layer":[
{"data":{"name":"pts"},"transform":[{"filter":"datum.w==1250"}],"mark":{"type":"errorbar","color":"#555","thickness":1.2},"encoding":{"x":{"field":"a","type":"quantitative","scale":{"domain":[-1,1],"nice":false},"axis":{"orient":"top","values":[-1,-0.9,-0.8,-0.7,-0.6,-0.5,-0.4,-0.3,-0.2,-0.1,0,0.1,0.2,0.3,0.4,0.5,0.6,0.7,0.8,0.9,1],"tickSize":{"condition":{"test":"abs(datum.value*2-round(datum.value*2))<0.001","value":-4},"value":-2},"labels":false,"title":"TeL W=1250","titlePadding":9,"titleColor":"#333"}},"y":{"field":"v","type":"quantitative","scale":{"domain":[0,0.11],"nice":false,"zero":false},"axis":{"orient":"right","values":[0,0.01,0.02,0.03,0.04,0.05,0.06,0.07,0.08,0.09,0.1,0.11],"tickSize":{"condition":{"test":"abs(datum.value/0.05-round(datum.value/0.05))<0.001","value":-4},"value":-2},"labels":false,"title":null}},"yError":{"field":"e"}}},
{"data":{"name":"pts"},"transform":[{"filter":"datum.w==1250"}],"mark":{"type":"point","shape":"circle","size":18,"color":"#555","strokeWidth":1},"encoding":{"x":{"field":"a","type":"quantitative","axis":{"orient":"bottom","values":[-1,-0.9,-0.8,-0.7,-0.6,-0.5,-0.4,-0.3,-0.2,-0.1,0,0.1,0.2,0.3,0.4,0.5,0.6,0.7,0.8,0.9,1],"tickSize":{"condition":{"test":"abs(datum.value*2-round(datum.value*2))<0.001","value":-4},"value":-2},"labelExpr":"abs(datum.value*2-round(datum.value*2))<0.001 ? toString(round(datum.value*10)/10) : ''","labelPadding":8,"title":"ANGLE","titlePadding":4}},"y":{"field":"v","type":"quantitative","axis":{"orient":"left","values":[0,0.01,0.02,0.03,0.04,0.05,0.06,0.07,0.08,0.09,0.1,0.11],"tickSize":{"condition":{"test":"abs(datum.value/0.05-round(datum.value/0.05))<0.001","value":-4},"value":-2},"labelExpr":"abs(datum.value/0.05-round(datum.value/0.05))<0.001 ? toString(round(datum.value*1000)/1000) : ''","labelAngle":270,"labelAlign":"center","labelBaseline":"bottom","labelPadding":7,"title":"TeL","titlePadding":4}}}},
{"data":{"name":"fit"},"transform":[{"filter":"datum.w==1250"}],"mark":{"type":"line","color":"#ff8a8a","strokeWidth":1.2,"interpolate":"monotone"},"encoding":{"x":{"field":"a","type":"quantitative","axis":null},"y":{"field":"v","type":"quantitative","axis":{"orient":"left","offset":-45,"values":[0,0.01,0.02,0.03,0.04,0.05,0.06,0.07,0.08,0.09,0.1,0.11],"tickSize":{"condition":{"test":"abs(datum.value/0.05-round(datum.value/0.05))<0.001","value":4},"value":2},"labels":false,"title":null}}}},
{"data":{"values":[{}]},"mark":{"type":"rule","color":"#000","strokeWidth":1},"encoding":{"x":{"datum":0,"type":"quantitative","axis":null},"y":{"datum":0,"type":"quantitative","axis":{"orient":"right","offset":-45,"values":[0,0.01,0.02,0.03,0.04,0.05,0.06,0.07,0.08,0.09,0.1,0.11],"tickSize":{"condition":{"test":"abs(datum.value/0.05-round(datum.value/0.05))<0.001","value":4},"value":2},"labels":false,"title":null}},"y2":{"datum":0.11}}},
{"data":{"values":[{}]},"mark":{"type":"text","text":"PRELIMINARY","angle":42,"fontSize":46,"fontWeight":"bold","font":"Liberation Sans","color":"#7474ff","opacity":0.9,"align":"center","baseline":"middle"},"encoding":{"x":{"datum":0.0,"type":"quantitative","axis":null},"y":{"datum":0.066,"type":"quantitative","axis":null}}}
]},
{"width":90,"height":81,"resolve":{"axis":{"x":"independent","y":"independent"}},"layer":[
{"data":{"name":"pts"},"transform":[{"filter":"datum.w==1270"}],"mark":{"type":"errorbar","color":"#555","thickness":1.2},"encoding":{"x":{"field":"a","type":"quantitative","scale":{"domain":[-1,1],"nice":false},"axis":{"orient":"top","values":[-1,-0.9,-0.8,-0.7,-0.6,-0.5,-0.4,-0.3,-0.2,-0.1,0,0.1,0.2,0.3,0.4,0.5,0.6,0.7,0.8,0.9,1],"tickSize":{"condition":{"test":"abs(datum.value*2-round(datum.value*2))<0.001","value":-4},"value":-2},"labels":false,"title":"TeL W=1270","titlePadding":9,"titleColor":"#333"}},"y":{"field":"v","type":"quantitative","scale":{"domain":[0,0.095],"nice":false,"zero":false},"axis":{"orient":"right","values":[0,0.005,0.01,0.015,0.02,0.025,0.03,0.035,0.04,0.045,0.05,0.055,0.06,0.065,0.07,0.075,0.08,0.085,0.09,0.095],"tickSize":{"condition":{"test":"abs(datum.value/0.02-round(datum.value/0.02))<0.001","value":-4},"value":-2},"labels":false,"title":null}},"yError":{"field":"e"}}},
{"data":{"name":"pts"},"transform":[{"filter":"datum.w==1270"}],"mark":{"type":"point","shape":"circle","size":18,"color":"#555","strokeWidth":1},"encoding":{"x":{"field":"a","type":"quantitative","axis":{"orient":"bottom","values":[-1,-0.9,-0.8,-0.7,-0.6,-0.5,-0.4,-0.3,-0.2,-0.1,0,0.1,0.2,0.3,0.4,0.5,0.6,0.7,0.8,0.9,1],"tickSize":{"condition":{"test":"abs(datum.value*2-round(datum.value*2))<0.001","value":-4},"value":-2},"labelExpr":"abs(datum.value*2-round(datum.value*2))<0.001 ? toString(round(datum.value*10)/10) : ''","labelPadding":8,"title":"ANGLE","titlePadding":4}},"y":{"field":"v","type":"quantitative","axis":{"orient":"left","values":[0,0.005,0.01,0.015,0.02,0.025,0.03,0.035,0.04,0.045,0.05,0.055,0.06,0.065,0.07,0.075,0.08,0.085,0.09,0.095],"tickSize":{"condition":{"test":"abs(datum.value/0.02-round(datum.value/0.02))<0.001","value":-4},"value":-2},"labelExpr":"abs(datum.value/0.02-round(datum.value/0.02))<0.001 ? toString(round(datum.value*1000)/1000) : ''","labelAngle":270,"labelAlign":"center","labelBaseline":"bottom","labelPadding":7,"title":"TeL","titlePadding":4}}}},
{"data":{"name":"fit"},"transform":[{"filter":"datum.w==1270"}],"mark":{"type":"line","color":"#ff8a8a","strokeWidth":1.2,"interpolate":"monotone"},"encoding":{"x":{"field":"a","type":"quantitative","axis":null},"y":{"field":"v","type":"quantitative","axis":{"orient":"left","offset":-45,"values":[0,0.005,0.01,0.015,0.02,0.025,0.03,0.035,0.04,0.045,0.05,0.055,0.06,0.065,0.07,0.075,0.08,0.085,0.09,0.095],"tickSize":{"condition":{"test":"abs(datum.value/0.02-round(datum.value/0.02))<0.001","value":4},"value":2},"labels":false,"title":null}}}},
{"data":{"values":[{}]},"mark":{"type":"rule","color":"#000","strokeWidth":1},"encoding":{"x":{"datum":0,"type":"quantitative","axis":null},"y":{"datum":0,"type":"quantitative","axis":{"orient":"right","offset":-45,"values":[0,0.005,0.01,0.015,0.02,0.025,0.03,0.035,0.04,0.045,0.05,0.055,0.06,0.065,0.07,0.075,0.08,0.085,0.09,0.095],"tickSize":{"condition":{"test":"abs(datum.value/0.02-round(datum.value/0.02))<0.001","value":4},"value":2},"labels":false,"title":null}},"y2":{"datum":0.095}}}
]},
{"width":90,"height":81,"resolve":{"axis":{"x":"independent","y":"independent"}},"layer":[
{"data":{"name":"pts"},"transform":[{"filter":"datum.w==1290"}],"mark":{"type":"errorbar","color":"#555","thickness":1.2},"encoding":{"x":{"field":"a","type":"quantitative","scale":{"domain":[-1,1],"nice":false},"axis":{"orient":"top","values":[-1,-0.9,-0.8,-0.7,-0.6,-0.5,-0.4,-0.3,-0.2,-0.1,0,0.1,0.2,0.3,0.4,0.5,0.6,0.7,0.8,0.9,1],"tickSize":{"condition":{"test":"abs(datum.value*2-round(datum.value*2))<0.001","value":-4},"value":-2},"labels":false,"title":"TeL W=1290","titlePadding":9,"titleColor":"#333"}},"y":{"field":"v","type":"quantitative","scale":{"domain":[0,0.095],"nice":false,"zero":false},"axis":{"orient":"right","values":[0,0.005,0.01,0.015,0.02,0.025,0.03,0.035,0.04,0.045,0.05,0.055,0.06,0.065,0.07,0.075,0.08,0.085,0.09,0.095],"tickSize":{"condition":{"test":"abs(datum.value/0.02-round(datum.value/0.02))<0.001","value":-4},"value":-2},"labels":false,"title":null}},"yError":{"field":"e"}}},
{"data":{"name":"pts"},"transform":[{"filter":"datum.w==1290"}],"mark":{"type":"point","shape":"circle","size":18,"color":"#555","strokeWidth":1},"encoding":{"x":{"field":"a","type":"quantitative","axis":{"orient":"bottom","values":[-1,-0.9,-0.8,-0.7,-0.6,-0.5,-0.4,-0.3,-0.2,-0.1,0,0.1,0.2,0.3,0.4,0.5,0.6,0.7,0.8,0.9,1],"tickSize":{"condition":{"test":"abs(datum.value*2-round(datum.value*2))<0.001","value":-4},"value":-2},"labelExpr":"abs(datum.value*2-round(datum.value*2))<0.001 ? toString(round(datum.value*10)/10) : ''","labelPadding":8,"title":"ANGLE","titlePadding":4}},"y":{"field":"v","type":"quantitative","axis":{"orient":"left","values":[0,0.005,0.01,0.015,0.02,0.025,0.03,0.035,0.04,0.045,0.05,0.055,0.06,0.065,0.07,0.075,0.08,0.085,0.09,0.095],"tickSize":{"condition":{"test":"abs(datum.value/0.02-round(datum.value/0.02))<0.001","value":-4},"value":-2},"labelExpr":"abs(datum.value/0.02-round(datum.value/0.02))<0.001 ? toString(round(datum.value*1000)/1000) : ''","labelAngle":270,"labelAlign":"center","labelBaseline":"bottom","labelPadding":7,"title":"TeL","titlePadding":4}}}},
{"data":{"name":"fit"},"transform":[{"filter":"datum.w==1290"}],"mark":{"type":"line","color":"#ff8a8a","strokeWidth":1.2,"interpolate":"monotone"},"encoding":{"x":{"field":"a","type":"quantitative","axis":null},"y":{"field":"v","type":"quantitative","axis":{"orient":"left","offset":-45,"values":[0,0.005,0.01,0.015,0.02,0.025,0.03,0.035,0.04,0.045,0.05,0.055,0.06,0.065,0.07,0.075,0.08,0.085,0.09,0.095],"tickSize":{"condition":{"test":"abs(datum.value/0.02-round(datum.value/0.02))<0.001","value":4},"value":2},"labels":false,"title":null}}}},
{"data":{"values":[{}]},"mark":{"type":"rule","color":"#000","strokeWidth":1},"encoding":{"x":{"datum":0,"type":"quantitative","axis":null},"y":{"datum":0,"type":"quantitative","axis":{"orient":"right","offset":-45,"values":[0,0.005,0.01,0.015,0.02,0.025,0.03,0.035,0.04,0.045,0.05,0.055,0.06,0.065,0.07,0.075,0.08,0.085,0.09,0.095],"tickSize":{"condition":{"test":"abs(datum.value/0.02-round(datum.value/0.02))<0.001","value":4},"value":2},"labels":false,"title":null}},"y2":{"datum":0.095}}}
]},
{"width":90,"height":81,"resolve":{"axis":{"x":"independent","y":"independent"}},"layer":[
{"data":{"name":"pts"},"transform":[{"filter":"datum.w==1310"}],"mark":{"type":"errorbar","color":"#555","thickness":1.2},"encoding":{"x":{"field":"a","type":"quantitative","scale":{"domain":[-1,1],"nice":false},"axis":{"orient":"top","values":[-1,-0.9,-0.8,-0.7,-0.6,-0.5,-0.4,-0.3,-0.2,-0.1,0,0.1,0.2,0.3,0.4,0.5,0.6,0.7,0.8,0.9,1],"tickSize":{"condition":{"test":"abs(datum.value*2-round(datum.value*2))<0.001","value":-4},"value":-2},"labels":false,"title":"TeL W=1310","titlePadding":9,"titleColor":"#333"}},"y":{"field":"v","type":"quantitative","scale":{"domain":[0,0.09],"nice":false,"zero":false},"axis":{"orient":"right","values":[0,0.005,0.01,0.015,0.02,0.025,0.03,0.035,0.04,0.045,0.05,0.055,0.06,0.065,0.07,0.075,0.08,0.085,0.09],"tickSize":{"condition":{"test":"abs(datum.value/0.02-round(datum.value/0.02))<0.001","value":-4},"value":-2},"labels":false,"title":null}},"yError":{"field":"e"}}},
{"data":{"name":"pts"},"transform":[{"filter":"datum.w==1310"}],"mark":{"type":"point","shape":"circle","size":18,"color":"#555","strokeWidth":1},"encoding":{"x":{"field":"a","type":"quantitative","axis":{"orient":"bottom","values":[-1,-0.9,-0.8,-0.7,-0.6,-0.5,-0.4,-0.3,-0.2,-0.1,0,0.1,0.2,0.3,0.4,0.5,0.6,0.7,0.8,0.9,1],"tickSize":{"condition":{"test":"abs(datum.value*2-round(datum.value*2))<0.001","value":-4},"value":-2},"labelExpr":"abs(datum.value*2-round(datum.value*2))<0.001 ? toString(round(datum.value*10)/10) : ''","labelPadding":8,"title":"ANGLE","titlePadding":4}},"y":{"field":"v","type":"quantitative","axis":{"orient":"left","values":[0,0.005,0.01,0.015,0.02,0.025,0.03,0.035,0.04,0.045,0.05,0.055,0.06,0.065,0.07,0.075,0.08,0.085,0.09],"tickSize":{"condition":{"test":"abs(datum.value/0.02-round(datum.value/0.02))<0.001","value":-4},"value":-2},"labelExpr":"abs(datum.value/0.02-round(datum.value/0.02))<0.001 ? toString(round(datum.value*1000)/1000) : ''","labelAngle":270,"labelAlign":"center","labelBaseline":"bottom","labelPadding":7,"title":"TeL","titlePadding":4}}}},
{"data":{"name":"fit"},"transform":[{"filter":"datum.w==1310"}],"mark":{"type":"line","color":"#ff8a8a","strokeWidth":1.2,"interpolate":"monotone"},"encoding":{"x":{"field":"a","type":"quantitative","axis":null},"y":{"field":"v","type":"quantitative","axis":{"orient":"left","offset":-45,"values":[0,0.005,0.01,0.015,0.02,0.025,0.03,0.035,0.04,0.045,0.05,0.055,0.06,0.065,0.07,0.075,0.08,0.085,0.09],"tickSize":{"condition":{"test":"abs(datum.value/0.02-round(datum.value/0.02))<0.001","value":4},"value":2},"labels":false,"title":null}}}},
{"data":{"values":[{}]},"mark":{"type":"rule","color":"#000","strokeWidth":1},"encoding":{"x":{"datum":0,"type":"quantitative","axis":null},"y":{"datum":0,"type":"quantitative","axis":{"orient":"right","offset":-45,"values":[0,0.005,0.01,0.015,0.02,0.025,0.03,0.035,0.04,0.045,0.05,0.055,0.06,0.065,0.07,0.075,0.08,0.085,0.09],"tickSize":{"condition":{"test":"abs(datum.value/0.02-round(datum.value/0.02))<0.001","value":4},"value":2},"labels":false,"title":null}},"y2":{"datum":0.09}}}
]},
{"width":90,"height":81,"resolve":{"axis":{"x":"independent","y":"independent"}},"layer":[
{"data":{"name":"pts"},"transform":[{"filter":"datum.w==1330"}],"mark":{"type":"errorbar","color":"#555","thickness":1.2},"encoding":{"x":{"field":"a","type":"quantitative","scale":{"domain":[-1,1],"nice":false},"axis":{"orient":"top","values":[-1,-0.9,-0.8,-0.7,-0.6,-0.5,-0.4,-0.3,-0.2,-0.1,0,0.1,0.2,0.3,0.4,0.5,0.6,0.7,0.8,0.9,1],"tickSize":{"condition":{"test":"abs(datum.value*2-round(datum.value*2))<0.001","value":-4},"value":-2},"labels":false,"title":"TeL W=1330","titlePadding":9,"titleColor":"#333"}},"y":{"field":"v","type":"quantitative","scale":{"domain":[0,0.072],"nice":false,"zero":false},"axis":{"orient":"right","values":[0,0.005,0.01,0.015,0.02,0.025,0.03,0.035,0.04,0.045,0.05,0.055,0.06,0.065,0.07],"tickSize":{"condition":{"test":"abs(datum.value/0.02-round(datum.value/0.02))<0.001","value":-4},"value":-2},"labels":false,"title":null}},"yError":{"field":"e"}}},
{"data":{"name":"pts"},"transform":[{"filter":"datum.w==1330"}],"mark":{"type":"point","shape":"circle","size":18,"color":"#555","strokeWidth":1},"encoding":{"x":{"field":"a","type":"quantitative","axis":{"orient":"bottom","values":[-1,-0.9,-0.8,-0.7,-0.6,-0.5,-0.4,-0.3,-0.2,-0.1,0,0.1,0.2,0.3,0.4,0.5,0.6,0.7,0.8,0.9,1],"tickSize":{"condition":{"test":"abs(datum.value*2-round(datum.value*2))<0.001","value":-4},"value":-2},"labelExpr":"abs(datum.value*2-round(datum.value*2))<0.001 ? toString(round(datum.value*10)/10) : ''","labelPadding":8,"title":"ANGLE","titlePadding":4}},"y":{"field":"v","type":"quantitative","axis":{"orient":"left","values":[0,0.005,0.01,0.015,0.02,0.025,0.03,0.035,0.04,0.045,0.05,0.055,0.06,0.065,0.07],"tickSize":{"condition":{"test":"abs(datum.value/0.02-round(datum.value/0.02))<0.001","value":-4},"value":-2},"labelExpr":"abs(datum.value/0.02-round(datum.value/0.02))<0.001 ? toString(round(datum.value*1000)/1000) : ''","labelAngle":270,"labelAlign":"center","labelBaseline":"bottom","labelPadding":7,"title":"TeL","titlePadding":4}}}},
{"data":{"name":"fit"},"transform":[{"filter":"datum.w==1330"}],"mark":{"type":"line","color":"#ff8a8a","strokeWidth":1.2,"interpolate":"monotone"},"encoding":{"x":{"field":"a","type":"quantitative","axis":null},"y":{"field":"v","type":"quantitative","axis":{"orient":"left","offset":-45,"values":[0,0.005,0.01,0.015,0.02,0.025,0.03,0.035,0.04,0.045,0.05,0.055,0.06,0.065,0.07],"tickSize":{"condition":{"test":"abs(datum.value/0.02-round(datum.value/0.02))<0.001","value":4},"value":2},"labels":false,"title":null}}}},
{"data":{"values":[{}]},"mark":{"type":"rule","color":"#000","strokeWidth":1},"encoding":{"x":{"datum":0,"type":"quantitative","axis":null},"y":{"datum":0,"type":"quantitative","axis":{"orient":"right","offset":-45,"values":[0,0.005,0.01,0.015,0.02,0.025,0.03,0.035,0.04,0.045,0.05,0.055,0.06,0.065,0.07],"tickSize":{"condition":{"test":"abs(datum.value/0.02-round(datum.value/0.02))<0.001","value":4},"value":2},"labels":false,"title":null}},"y2":{"datum":0.072}}}
]},
{"width":90,"height":81,"resolve":{"axis":{"x":"independent","y":"independent"}},"layer":[
{"data":{"name":"pts"},"transform":[{"filter":"datum.w==1350"}],"mark":{"type":"errorbar","color":"#555","thickness":1.2},"encoding":{"x":{"field":"a","type":"quantitative","scale":{"domain":[-1,1],"nice":false},"axis":{"orient":"top","values":[-1,-0.9,-0.8,-0.7,-0.6,-0.5,-0.4,-0.3,-0.2,-0.1,0,0.1,0.2,0.3,0.4,0.5,0.6,0.7,0.8,0.9,1],"tickSize":{"condition":{"test":"abs(datum.value*2-round(datum.value*2))<0.001","value":-4},"value":-2},"labels":false,"title":"TeL W=1350","titlePadding":9,"titleColor":"#333"}},"y":{"field":"v","type":"quantitative","scale":{"domain":[0,0.076],"nice":false,"zero":false},"axis":{"orient":"right","values":[0,0.005,0.01,0.015,0.02,0.025,0.03,0.035,0.04,0.045,0.05,0.055,0.06,0.065,0.07,0.075],"tickSize":{"condition":{"test":"abs(datum.value/0.02-round(datum.value/0.02))<0.001","value":-4},"value":-2},"labels":false,"title":null}},"yError":{"field":"e"}}},
{"data":{"name":"pts"},"transform":[{"filter":"datum.w==1350"}],"mark":{"type":"point","shape":"circle","size":18,"color":"#555","strokeWidth":1},"encoding":{"x":{"field":"a","type":"quantitative","axis":{"orient":"bottom","values":[-1,-0.9,-0.8,-0.7,-0.6,-0.5,-0.4,-0.3,-0.2,-0.1,0,0.1,0.2,0.3,0.4,0.5,0.6,0.7,0.8,0.9,1],"tickSize":{"condition":{"test":"abs(datum.value*2-round(datum.value*2))<0.001","value":-4},"value":-2},"labelExpr":"abs(datum.value*2-round(datum.value*2))<0.001 ? toString(round(datum.value*10)/10) : ''","labelPadding":8,"title":"ANGLE","titlePadding":4}},"y":{"field":"v","type":"quantitative","axis":{"orient":"left","values":[0,0.005,0.01,0.015,0.02,0.025,0.03,0.035,0.04,0.045,0.05,0.055,0.06,0.065,0.07,0.075],"tickSize":{"condition":{"test":"abs(datum.value/0.02-round(datum.value/0.02))<0.001","value":-4},"value":-2},"labelExpr":"abs(datum.value/0.02-round(datum.value/0.02))<0.001 ? toString(round(datum.value*1000)/1000) : ''","labelAngle":270,"labelAlign":"center","labelBaseline":"bottom","labelPadding":7,"title":"TeL","titlePadding":4}}}},
{"data":{"name":"fit"},"transform":[{"filter":"datum.w==1350"}],"mark":{"type":"line","color":"#ff8a8a","strokeWidth":1.2,"interpolate":"monotone"},"encoding":{"x":{"field":"a","type":"quantitative","axis":null},"y":{"field":"v","type":"quantitative","axis":{"orient":"left","offset":-45,"values":[0,0.005,0.01,0.015,0.02,0.025,0.03,0.035,0.04,0.045,0.05,0.055,0.06,0.065,0.07,0.075],"tickSize":{"condition":{"test":"abs(datum.value/0.02-round(datum.value/0.02))<0.001","value":4},"value":2},"labels":false,"title":null}}}},
{"data":{"values":[{}]},"mark":{"type":"rule","color":"#000","strokeWidth":1},"encoding":{"x":{"datum":0,"type":"quantitative","axis":null},"y":{"datum":0,"type":"quantitative","axis":{"orient":"right","offset":-45,"values":[0,0.005,0.01,0.015,0.02,0.025,0.03,0.035,0.04,0.045,0.05,0.055,0.06,0.065,0.07,0.075],"tickSize":{"condition":{"test":"abs(datum.value/0.02-round(datum.value/0.02))<0.001","value":4},"value":2},"labels":false,"title":null}},"y2":{"datum":0.076}}}
]},
{"width":90,"height":81,"resolve":{"axis":{"x":"independent","y":"independent"}},"layer":[
{"data":{"name":"pts"},"transform":[{"filter":"datum.w==1370"}],"mark":{"type":"errorbar","color":"#555","thickness":1.2},"encoding":{"x":{"field":"a","type":"quantitative","scale":{"domain":[-1,1],"nice":false},"axis":{"orient":"top","values":[-1,-0.9,-0.8,-0.7,-0.6,-0.5,-0.4,-0.3,-0.2,-0.1,0,0.1,0.2,0.3,0.4,0.5,0.6,0.7,0.8,0.9,1],"tickSize":{"condition":{"test":"abs(datum.value*2-round(datum.value*2))<0.001","value":-4},"value":-2},"labels":false,"title":"TeL W=1370","titlePadding":9,"titleColor":"#333"}},"y":{"field":"v","type":"quantitative","scale":{"domain":[0,0.09],"nice":false,"zero":false},"axis":{"orient":"right","values":[0,0.005,0.01,0.015,0.02,0.025,0.03,0.035,0.04,0.045,0.05,0.055,0.06,0.065,0.07,0.075,0.08,0.085,0.09],"tickSize":{"condition":{"test":"abs(datum.value/0.02-round(datum.value/0.02))<0.001","value":-4},"value":-2},"labels":false,"title":null}},"yError":{"field":"e"}}},
{"data":{"name":"pts"},"transform":[{"filter":"datum.w==1370"}],"mark":{"type":"point","shape":"circle","size":18,"color":"#555","strokeWidth":1},"encoding":{"x":{"field":"a","type":"quantitative","axis":{"orient":"bottom","values":[-1,-0.9,-0.8,-0.7,-0.6,-0.5,-0.4,-0.3,-0.2,-0.1,0,0.1,0.2,0.3,0.4,0.5,0.6,0.7,0.8,0.9,1],"tickSize":{"condition":{"test":"abs(datum.value*2-round(datum.value*2))<0.001","value":-4},"value":-2},"labelExpr":"abs(datum.value*2-round(datum.value*2))<0.001 ? toString(round(datum.value*10)/10) : ''","labelPadding":8,"title":"ANGLE","titlePadding":4}},"y":{"field":"v","type":"quantitative","axis":{"orient":"left","values":[0,0.005,0.01,0.015,0.02,0.025,0.03,0.035,0.04,0.045,0.05,0.055,0.06,0.065,0.07,0.075,0.08,0.085,0.09],"tickSize":{"condition":{"test":"abs(datum.value/0.02-round(datum.value/0.02))<0.001","value":-4},"value":-2},"labelExpr":"abs(datum.value/0.02-round(datum.value/0.02))<0.001 ? toString(round(datum.value*1000)/1000) : ''","labelAngle":270,"labelAlign":"center","labelBaseline":"bottom","labelPadding":7,"title":"TeL","titlePadding":4}}}},
{"data":{"name":"fit"},"transform":[{"filter":"datum.w==1370"}],"mark":{"type":"line","color":"#ff8a8a","strokeWidth":1.2,"interpolate":"monotone"},"encoding":{"x":{"field":"a","type":"quantitative","axis":null},"y":{"field":"v","type":"quantitative","axis":{"orient":"left","offset":-45,"values":[0,0.005,0.01,0.015,0.02,0.025,0.03,0.035,0.04,0.045,0.05,0.055,0.06,0.065,0.07,0.075,0.08,0.085,0.09],"tickSize":{"condition":{"test":"abs(datum.value/0.02-round(datum.value/0.02))<0.001","value":4},"value":2},"labels":false,"title":null}}}},
{"data":{"values":[{}]},"mark":{"type":"rule","color":"#000","strokeWidth":1},"encoding":{"x":{"datum":0,"type":"quantitative","axis":null},"y":{"datum":0,"type":"quantitative","axis":{"orient":"right","offset":-45,"values":[0,0.005,0.01,0.015,0.02,0.025,0.03,0.035,0.04,0.045,0.05,0.055,0.06,0.065,0.07,0.075,0.08,0.085,0.09],"tickSize":{"condition":{"test":"abs(datum.value/0.02-round(datum.value/0.02))<0.001","value":4},"value":2},"labels":false,"title":null}},"y2":{"datum":0.09}}}
]},
{"width":90,"height":81,"resolve":{"axis":{"x":"independent","y":"independent"}},"layer":[
{"data":{"name":"pts"},"transform":[{"filter":"datum.w==1390"}],"mark":{"type":"errorbar","color":"#555","thickness":1.2},"encoding":{"x":{"field":"a","type":"quantitative","scale":{"domain":[-1,1],"nice":false},"axis":{"orient":"top","values":[-1,-0.9,-0.8,-0.7,-0.6,-0.5,-0.4,-0.3,-0.2,-0.1,0,0.1,0.2,0.3,0.4,0.5,0.6,0.7,0.8,0.9,1],"tickSize":{"condition":{"test":"abs(datum.value*2-round(datum.value*2))<0.001","value":-4},"value":-2},"labels":false,"title":"TeL W=1390","titlePadding":9,"titleColor":"#333"}},"y":{"field":"v","type":"quantitative","scale":{"domain":[0,0.075],"nice":false,"zero":false},"axis":{"orient":"right","values":[0,0.005,0.01,0.015,0.02,0.025,0.03,0.035,0.04,0.045,0.05,0.055,0.06,0.065,0.07,0.075],"tickSize":{"condition":{"test":"abs(datum.value/0.02-round(datum.value/0.02))<0.001","value":-4},"value":-2},"labels":false,"title":null}},"yError":{"field":"e"}}},
{"data":{"name":"pts"},"transform":[{"filter":"datum.w==1390"}],"mark":{"type":"point","shape":"circle","size":18,"color":"#555","strokeWidth":1},"encoding":{"x":{"field":"a","type":"quantitative","axis":{"orient":"bottom","values":[-1,-0.9,-0.8,-0.7,-0.6,-0.5,-0.4,-0.3,-0.2,-0.1,0,0.1,0.2,0.3,0.4,0.5,0.6,0.7,0.8,0.9,1],"tickSize":{"condition":{"test":"abs(datum.value*2-round(datum.value*2))<0.001","value":-4},"value":-2},"labelExpr":"abs(datum.value*2-round(datum.value*2))<0.001 ? toString(round(datum.value*10)/10) : ''","labelPadding":8,"title":"ANGLE","titlePadding":4}},"y":{"field":"v","type":"quantitative","axis":{"orient":"left","values":[0,0.005,0.01,0.015,0.02,0.025,0.03,0.035,0.04,0.045,0.05,0.055,0.06,0.065,0.07,0.075],"tickSize":{"condition":{"test":"abs(datum.value/0.02-round(datum.value/0.02))<0.001","value":-4},"value":-2},"labelExpr":"abs(datum.value/0.02-round(datum.value/0.02))<0.001 ? toString(round(datum.value*1000)/1000) : ''","labelAngle":270,"labelAlign":"center","labelBaseline":"bottom","labelPadding":7,"title":"TeL","titlePadding":4}}}},
{"data":{"name":"fit"},"transform":[{"filter":"datum.w==1390"}],"mark":{"type":"line","color":"#ff8a8a","strokeWidth":1.2,"interpolate":"monotone"},"encoding":{"x":{"field":"a","type":"quantitative","axis":null},"y":{"field":"v","type":"quantitative","axis":{"orient":"left","offset":-45,"values":[0,0.005,0.01,0.015,0.02,0.025,0.03,0.035,0.04,0.045,0.05,0.055,0.06,0.065,0.07,0.075],"tickSize":{"condition":{"test":"abs(datum.value/0.02-round(datum.value/0.02))<0.001","value":4},"value":2},"labels":false,"title":null}}}},
{"data":{"values":[{}]},"mark":{"type":"rule","color":"#000","strokeWidth":1},"encoding":{"x":{"datum":0,"type":"quantitative","axis":null},"y":{"datum":0,"type":"quantitative","axis":{"orient":"right","offset":-45,"values":[0,0.005,0.01,0.015,0.02,0.025,0.03,0.035,0.04,0.045,0.05,0.055,0.06,0.065,0.07,0.075],"tickSize":{"condition":{"test":"abs(datum.value/0.02-round(datum.value/0.02))<0.001","value":4},"value":2},"labels":false,"title":null}},"y2":{"datum":0.075}}}
]}
]
}
